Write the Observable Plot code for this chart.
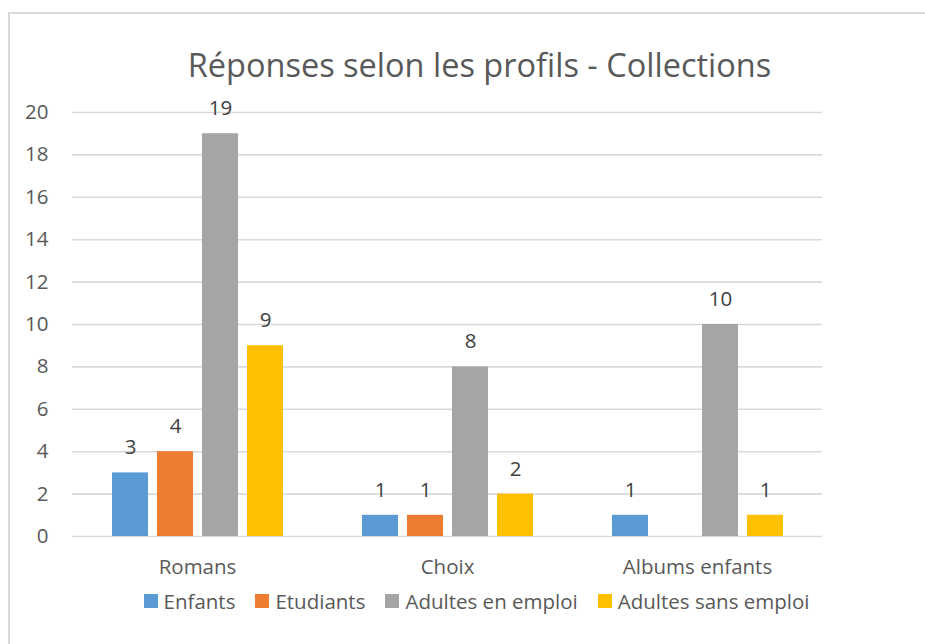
<!DOCTYPE html>
<html>
<head>
<meta charset="utf-8">
<script src="https://cdn.jsdelivr.net/npm/d3@7"></script>
<script src="https://cdn.jsdelivr.net/npm/@observablehq/plot@0.6"></script>
<style>
  html, body { margin: 0; padding: 0; background: #fff; }
  body { font-family: "Open Sans", sans-serif; color: #595959; }
  #wrap { position: relative; width: 925px; height: 644px; overflow: hidden; }
  #frame { position: absolute; left: 8px; top: 12px; width: 930px; height: 640px;
           border-top: 2px solid #d9d9d9; border-left: 2px solid #d9d9d9; pointer-events: none; }
  #title { height: 70px; box-sizing: border-box; padding-top: 45px; line-height: 40px;
           font-size: 32.5px; text-align: center; padding-left: 34px; white-space: nowrap;
           overflow: visible; }
  #legend { display: flex; justify-content: center; align-items: center; gap: 20px;
            padding-left: 28px; margin-top: 2px; font-size: 20.5px; line-height: 28px; }
  .item { display: flex; align-items: center; gap: 6px; }
  .sw { width: 14px; height: 14px; display: inline-block; }
</style>
</head>
<body>
<div id="wrap">
  <div id="title"></div>
  <div id="chart"></div>
  <div id="legend"></div>
  <div id="frame"></div>
</div>
<script>
const title = "Réponses selon les profils - Collections";
const categories = ["Romans", "Choix", "Albums enfants"];
const series = ["Enfants", "Etudiants", "Adultes en emploi", "Adultes sans emploi"];
const colors = ["#5B9BD5", "#ED7D31", "#A5A5A5", "#FFC000"];
const enfants = [3, 1, 1];
const etudiants = [4, 1, null];
const adultesEnEmploi = [19, 8, 10];
const adultesSansEmploi = [9, 2, 1];
const yTicks = [0, 2, 4, 6, 8, 10, 12, 14, 16, 18, 20];

const valuesBySeries = [enfants, etudiants, adultesEnEmploi, adultesSansEmploi];
const data = [];
categories.forEach((c, i) => {
  series.forEach((s, j) => {
    const v = valuesBySeries[j][i];
    if (v != null) data.push({category: c, series: s, value: v});
  });
});

document.getElementById("title").textContent = title;

const chart = Plot.plot({
  width: 925,
  height: 515,
  marginLeft: 72,
  marginRight: 103,
  marginTop: 42,
  marginBottom: 49,
  style: {fontFamily: "Open Sans, sans-serif", fontSize: "20.5px", color: "#595959", background: "transparent", overflow: "visible"},
  fx: {domain: categories, padding: 0, label: null, axis: "bottom", tickSize: 0, tickPadding: 23},
  x: {domain: series, paddingInner: 0.21, paddingOuter: 0.85, axis: null},
  y: {domain: [0, 20], ticks: yTicks, label: null, tickSize: 0, tickPadding: 24},
  color: {domain: series, range: colors},
  marks: [
    Plot.gridY(yTicks, {stroke: "#d9d9d9", strokeOpacity: 1, strokeWidth: 1.6}),
    Plot.barY(data, {fx: "category", x: "series", y: "value", fill: "series"}),
    Plot.text(data, {fx: "category", x: "series", y: "value", text: d => String(d.value),
                     dy: -25, fill: "#404040", fontSize: 20.5})
  ]
});
document.getElementById("chart").appendChild(chart);

const legend = document.getElementById("legend");
series.forEach((s, j) => {
  const item = document.createElement("div");
  item.className = "item";
  const sw = document.createElement("span");
  sw.className = "sw";
  sw.style.background = colors[j];
  const lab = document.createElement("span");
  lab.textContent = s;
  item.appendChild(sw);
  item.appendChild(lab);
  legend.appendChild(item);
});
</script>
</body>
</html>
